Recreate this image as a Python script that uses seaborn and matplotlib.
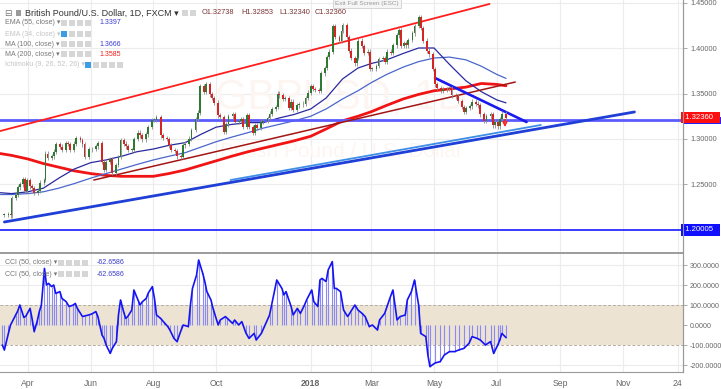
import numpy as np
import pandas as pd
import matplotlib
matplotlib.use("Agg")
import matplotlib.pyplot as plt
import matplotlib.dates as mdates
import matplotlib.transforms as mtransforms
from matplotlib.patches import Rectangle
import seaborn as sns

sns.set_style("white")
plt.rcParams["font.family"] = ["Liberation Sans", "DejaVu Sans"]

W, H = 721, 389
FIRST_DAY = "2017-03-09"
LAST_DAY = "2018-07-10"

# GBP/USD closes, roughly every second session, one list per month
c_mar17 = [1.2165, 1.2175, 1.2160, 1.2350, 1.2385, 1.2470, 1.2500, 1.2560, 1.2430, 1.2550]
c_apr17 = [1.2480, 1.2460, 1.2405, 1.2430, 1.2520, 1.2550, 1.2840, 1.2790, 1.2810, 1.2860, 1.2940]
c_may17 = [1.2915, 1.2880, 1.2955, 1.2945, 1.2880, 1.2950, 1.3010, 1.2990, 1.2940, 1.2800, 1.2885]
c_jun17 = [1.2890, 1.2920, 1.2955, 1.2745, 1.2660, 1.2750, 1.2780, 1.2630, 1.2715, 1.2800, 1.2990]
c_jul17 = [1.2950, 1.2920, 1.2880, 1.2880, 1.3000, 1.3070, 1.3040, 1.2995, 1.3050, 1.3130, 1.3210]
c_aug17 = [1.3210, 1.3240, 1.3040, 1.3010, 1.3000, 1.2930, 1.2880, 1.2870, 1.2810, 1.2800, 1.2930]
c_sep17 = [1.2950, 1.3005, 1.3100, 1.3220, 1.3290, 1.3580, 1.3520, 1.3600, 1.3490, 1.3450, 1.3400]
c_oct17 = [1.3260, 1.3240, 1.3080, 1.3160, 1.3250, 1.3270, 1.3190, 1.3200, 1.3220, 1.3130, 1.3260]
c_nov17 = [1.3130, 1.3070, 1.3150, 1.3120, 1.3190, 1.3200, 1.3230, 1.3280, 1.3330, 1.3350, 1.3500]
c_dec17 = [1.3480, 1.3440, 1.3450, 1.3340, 1.3410, 1.3320, 1.3370, 1.3380, 1.3390, 1.3450, 1.3510]
c_jan18 = [1.3580, 1.3550, 1.3540, 1.3530, 1.3720, 1.3780, 1.3900, 1.3960, 1.4240, 1.4120, 1.4080, 1.4190]
c_feb18 = [1.4250, 1.4120, 1.3970, 1.3890, 1.3830, 1.3890, 1.4080, 1.4020, 1.3950, 1.3960, 1.3770]
c_mar18 = [1.3770, 1.3800, 1.3880, 1.3890, 1.3850, 1.3960, 1.3950, 1.4030, 1.4140, 1.4200, 1.4020]
c_apr18 = [1.4050, 1.4030, 1.4090, 1.4160, 1.4240, 1.4340, 1.4220, 1.4080, 1.3970, 1.3930, 1.3770]
c_may18 = [1.3600, 1.3560, 1.3530, 1.3545, 1.3550, 1.3560, 1.3480, 1.3470, 1.3420, 1.3350, 1.3300]
c_jun18 = [1.3340, 1.3360, 1.3410, 1.3390, 1.3370, 1.3270, 1.3200, 1.3250, 1.3270, 1.3150, 1.3190]
c_jul18 = [1.3140, 1.3220, 1.3280, 1.3236]

k_mar17 = [-100, -125, -40, 0, 50, 70, 100, 37, 45]
k_apr17 = [83, 30, -33, 20, 67, 100, 283, 200, 208, 192, 200, 158]
k_may17 = [167, 133, 117, 92, 100, 108, 83, 42, 45, 50]
k_jun17 = [55, 67, 42, -50, -67, -100, -142, -117, -83, 50, 125]
k_jul17 = [67, 33, 42, 75, 175, 125, 100, 115, 133, 160, 192]
k_aug17 = [133, 50, 33, 15, -8, -25, -67, -83, -25, 0]
k_sep17 = [-8, 100, 183, 250, 325, 258, 217, 167, 125, 83]
k_oct17 = [0, 25, 42, 33, 8, 25, 0, 17, -40]
k_nov17 = [-67, -42, -75, -42, -8, 50, 100, 225]
k_dec17 = [183, 150, 167, 92, 50, 83, 58, 100, 125]
k_jan18 = [175, 117, 92, 225, 233, 217, 275, 317, 183, 183, 167]
k_feb18 = [75, 42, 67, 100, 75, 58, 42, -8]
k_mar18 = [0, -25, 25, 58, 133, 175, 25, 42]
k_apr18 = [50, 125, 167, 225, 100, -42, -58, -150, -208]
k_may18 = [-190, -183, -150, -133, -133, -125, -117]
k_jun18 = [-92, -58, -67, -75, -100, -83, -142]
k_jul18 = [-100, -75, -42, -62.6586]

months = ["2017-03", "2017-04", "2017-05", "2017-06", "2017-07", "2017-08", "2017-09",
          "2017-10", "2017-11", "2017-12", "2018-01", "2018-02", "2018-03", "2018-04",
          "2018-05", "2018-06", "2018-07"]
closes = [c_mar17, c_apr17, c_may17, c_jun17, c_jul17, c_aug17, c_sep17, c_oct17, c_nov17,
          c_dec17, c_jan18, c_feb18, c_mar18, c_apr18, c_may18, c_jun18, c_jul18]
ccis = [k_mar17, k_apr17, k_may17, k_jun17, k_jul17, k_aug17, k_sep17, k_oct17, k_nov17,
        k_dec17, k_jan18, k_feb18, k_mar18, k_apr18, k_may18, k_jun18, k_jul18]

# moving averages, read twice a month
ma_dates = ["2017-03-05", "2017-03-16", "2017-04-01", "2017-04-16", "2017-05-01", "2017-05-16",
            "2017-06-01", "2017-06-16", "2017-07-01", "2017-07-16", "2017-08-01", "2017-08-16",
            "2017-09-01", "2017-09-16", "2017-10-01", "2017-10-16", "2017-11-01", "2017-11-16",
            "2017-12-01", "2017-12-16", "2018-01-01", "2018-01-16", "2018-02-01", "2018-02-16",
            "2018-03-01", "2018-03-16", "2018-04-01", "2018-04-16", "2018-05-01", "2018-05-16",
            "2018-06-01", "2018-06-16", "2018-07-01", "2018-07-10"]
ema55 = [1.241, 1.240, 1.242, 1.246, 1.257, 1.267, 1.274, 1.277, 1.281, 1.286, 1.289, 1.293,
         1.296, 1.305, 1.313, 1.316, 1.318, 1.318, 1.323, 1.327, 1.333, 1.345, 1.366, 1.378,
         1.383, 1.387, 1.394, 1.400, 1.400, 1.382, 1.364, 1.352, 1.343, 1.3397]
ma100 = [1.239, 1.239, 1.240, 1.242, 1.246, 1.251, 1.257, 1.262, 1.267, 1.272, 1.277, 1.281,
         1.285, 1.291, 1.297, 1.302, 1.307, 1.312, 1.316, 1.320, 1.325, 1.333, 1.344, 1.353,
         1.362, 1.371, 1.379, 1.385, 1.389, 1.390, 1.387, 1.380, 1.371, 1.3666]
ma200 = [1.284, 1.282, 1.278, 1.273, 1.269, 1.265, 1.262, 1.260, 1.259, 1.259, 1.259, 1.262,
         1.266, 1.271, 1.276, 1.281, 1.286, 1.290, 1.294, 1.298, 1.303, 1.311, 1.320, 1.325,
         1.330, 1.337, 1.344, 1.349, 1.353, 1.355, 1.357, 1.361, 1.360, 1.3585]

# hand-drawn lines: (date, price) end points
channel_top = [("2017-03-05", 1.3088), ("2018-06-24", 1.4484)]
channel_mid = [("2017-06-04", 1.2549), ("2018-07-19", 1.3626)]
support_main = [("2017-03-09", 1.2088), ("2018-11-12", 1.3297)]
support_inner = [("2017-10-15", 1.2549), ("2018-08-13", 1.3154)]
resistance = [("2018-05-02", 1.3670), ("2018-07-30", 1.3187)]
h_level = 1.3210
h_low = 1.20005
last_price = 1.3236
arrow = [("2018-07-09", 1.3245), ("2018-07-09", 1.3100)]

tick_dates = ["2017-04-01", "2017-06-01", "2017-08-01", "2017-10-01", "2018-01-01", "2018-03-01",
              "2018-05-01", "2018-07-01", "2018-09-01", "2018-11-01", "2018-12-24"]
tick_labels = ["Apr", "Jun", "Aug", "Oct", "2018", "Mar", "May", "Jul", "Sep", "Nov", "24"]


def dn(d):
    return mdates.date2num(pd.Timestamp(d))


def month_dates(month, n, first, last):
    ms = pd.Timestamp(month + "-01")
    start = max(ms, pd.Timestamp(first))
    end = min(ms + pd.offsets.MonthEnd(0), pd.Timestamp(last))
    days = pd.bdate_range(start, end)
    idx = ((np.arange(n) + 0.5) * len(days) / n).astype(int)
    return mdates.date2num(days[idx])


def fpos(x, y):
    return x / W, 1 - y / H


px_x = np.concatenate([month_dates(m, len(v), FIRST_DAY, LAST_DAY) for m, v in zip(months, closes)])
close = np.concatenate(closes)
open_ = np.r_[close[0], close[:-1]]
cci_x = np.concatenate([month_dates(m, len(v), "2017-03-06", LAST_DAY) for m, v in zip(months, ccis)])
cci = np.concatenate(ccis)

fig = plt.figure(figsize=(W / 100, H / 100), dpi=100)
ax = fig.add_axes([0, 1 - 252 / H, 683 / W, 252 / H])
ax2 = fig.add_axes([0, 1 - 372 / H, 683 / W, 118 / H])

xlim = (dn("2017-03-04 18:00"), dn("2018-12-29 05:00"))
for a in (ax, ax2):
    a.set_xlim(*xlim)
    for s in a.spines.values():
        s.set_visible(False)
    a.spines["right"].set_visible(True)
    a.spines["right"].set_color("#9a9a9a")
    for t in tick_dates:
        a.axvline(dn(t), color="#ececec", lw=0.8, zorder=0)

ax.set_ylim(1.17582, 1.45275)
ax2.set_ylim(-235, 355)

# watermark
ax.text(0.5, 0.615, "GBPUSD, 1D", transform=ax.transAxes, ha="center", va="center",
        fontsize=30, color="#fdf5f2", zorder=0.2)
ax.text(0.5, 0.397, "British Pound / U.S. Dollar", transform=ax.transAxes, ha="center",
        va="center", fontsize=15, color="#fdf5f2", zorder=0.2)

# price pane
price_ticks = [1.25, 1.30, 1.35, 1.40, 1.45]
for p in price_ticks:
    ax.axhline(p, color="#ececec", lw=0.8, zorder=0)
ax.yaxis.tick_right()
ax.set_yticks(price_ticks)
ax.set_yticklabels([f"{p:.5f}" for p in price_ticks])
ax.tick_params(axis="y", labelsize=5.3, colors="#666666", length=3, width=0.6, pad=2)
ax.tick_params(axis="y", color="#9a9a9a")
ax.set_xticks([])

for (d0, p0), (d1, p1), col, lw in [
        (channel_top[0], channel_top[1], "#ff1e1e", 1.3),
        (channel_mid[0], channel_mid[1], "#a31515", 1.1),
        (support_inner[0], support_inner[1], "#3d8ee8", 1.3),
        (support_main[0], support_main[1], "#1f3fd6", 2.0),
        (resistance[0], resistance[1], "#1a1aee", 1.9)]:
    sns.lineplot(x=[dn(d0), dn(d1)], y=[p0, p1], ax=ax, color=col, lw=lw, zorder=6)

ax.axhline(h_level, color="#5b5bff", lw=2.0, zorder=5)
ax.axhline(h_low, color="#2b2bff", lw=1.3, zorder=5)

ma_x = [dn(d) for d in ma_dates]
sns.lineplot(x=ma_x, y=ma200, ax=ax, color="#f01414", lw=2.0, zorder=4)
sns.lineplot(x=ma_x, y=ma100, ax=ax, color="#4a66cc", lw=0.9, zorder=4)
sns.lineplot(x=ma_x, y=ema55, ax=ax, color="#2a2aa0", lw=0.9, zorder=4)

# candles
WICK = 0.0025
up = close >= open_
ax.vlines(px_x, np.minimum(open_, close) - WICK, np.maximum(open_, close) + WICK,
          color="#8c8c8c", lw=0.6, zorder=7)
body = np.where(np.abs(close - open_) < 0.0008, 0.0008 * np.where(up, 1, -1), close - open_)
ax.bar(px_x, body, bottom=open_, width=1.8, color=np.where(up, "#2f7a33", "#d42424"),
       lw=0, zorder=8)

ax.annotate("", xy=(dn(arrow[1][0]), arrow[1][1]), xytext=(dn(arrow[0][0]), arrow[0][1]),
            arrowprops=dict(arrowstyle="->", color="#ff2020", lw=1.1, mutation_scale=7), zorder=9)

# price labels on the axis
blend = mtransforms.blended_transform_factory(ax.transAxes, ax.transData)
ax.add_patch(Rectangle((1.0, h_level - 0.0048), 38 / 683, 0.0085, transform=blend,
                       color="#2323ff", lw=0, clip_on=False, zorder=10))
lab = dict(xycoords=("axes fraction", "data"), ha="left", va="center", fontsize=5.6,
           color="white", annotation_clip=False)
ax.annotate(" 1.32360  ", xy=(1.0, last_price), zorder=11,
            bbox=dict(boxstyle="square,pad=0.3", fc="#ff1010", ec="none"), **lab)
ax.annotate(" 1.20005  ", xy=(1.0, h_low), zorder=11,
            bbox=dict(boxstyle="square,pad=0.3", fc="#1010ff", ec="none"), **lab)

# CCI pane
cci_ticks = [300, 200, 100, 0, -100, -200]
for v in [300, 200, -200]:
    ax2.axhline(v, color="#ececec", lw=0.8, zorder=0)
ax2.axhspan(-100, 100, color="#ece3d3", zorder=1, lw=0)
for v in (100, -100):
    ax2.axhline(v, color="#b5ada3", lw=0.7, ls=(0, (3, 2)), zorder=2)
ax2.vlines(cci_x, 0, cci, color="#8a8af2", lw=0.8, zorder=3)
sns.lineplot(x=cci_x, y=cci, ax=ax2, color="#1414f5", lw=1.2, zorder=4)
ax2.yaxis.tick_right()
ax2.set_yticks(cci_ticks)
ax2.set_yticklabels([f"{v:.4f}" for v in cci_ticks])
ax2.tick_params(axis="y", labelsize=5.1, colors="#666666", length=3, width=0.6, pad=2)
ax2.tick_params(axis="y", color="#9a9a9a")
ax2.spines["bottom"].set_visible(True)
ax2.spines["bottom"].set_color("#9a9a9a")
ax2.set_xticks([dn(t) for t in tick_dates])
ax2.set_xticklabels(tick_labels)
ax2.tick_params(axis="x", labelsize=6.2, colors="#666666", length=3, width=0.6, pad=2)
ax2.get_xticklabels()[4].set_fontweight("bold")
ax2.set_ylabel("")
ax.set_ylabel("")

# pane separator
fig.add_artist(plt.Line2D([0, 683 / W], [1 - 253 / H] * 2, color="#8a8a8a", lw=1.2))
fig.add_artist(plt.Line2D([683 / W] * 2, [1 - 372 / H, 1], color="#9a9a9a", lw=0.8))


def boxes(x0, y, n, first=None):
    for i in range(n):
        col = first if (i == 0 and first) else "#d6d6d6"
        fx, fy = fpos(x0 + 8 * i, y + 3)
        fig.add_artist(Rectangle((fx, fy), 6 / W, 6 / H, transform=fig.transFigure,
                                 color=col, lw=0))


# header
fig.text(*fpos(4, 13), "⊟", fontsize=6.5, color="#777777", va="center")
fig.add_artist(Rectangle(fpos(16, 16), 5 / W, 6 / H, transform=fig.transFigure,
                         color="#9a9a9a", lw=0))
fig.text(*fpos(25, 13), "British Pound/U.S. Dollar, 1D, FXCM ▾", fontsize=6.5,
         color="#333333", va="center")
boxes(182, 13, 2)
for x, s in [(202, "O1.32738"), (241, "H1.32853"), (279, "L1.32340"), (315, "C1.32360")]:
    fig.text(*fpos(x, 13), s, fontsize=5.3, color="#7a3434", va="center")

rows = [("EMA (55, close) ▾", "#777777", 23, 4, None, "1.3397", "#3a3ad0"),
        ("EMA (34, close) ▾", "#c4c4c4", 34, 4, "#3a9de6", None, None),
        ("MA (100, close) ▾", "#777777", 44, 4, None, "1.3666", "#3a3ad0"),
        ("MA (200, close) ▾", "#777777", 54, 4, None, "1.3585", "#ee2020"),
        ("Ichimoku (9, 26, 52, 26) ▾", "#c4c4c4", 65, 5, "#3a9de6", None, None)]
for name, col, y, n, first, val, vcol in rows:
    fig.text(*fpos(5, y), name, fontsize=5, color=col, va="center")
    x0 = 85 if name.startswith("Ichimoku") else 61
    boxes(x0, y, n, first)
    if val:
        fig.text(*fpos(99, y), val, fontsize=5, color=vcol, va="center")

for y in (263, 274):
    fig.text(*fpos(5, y), "CCI (50, close) ▾", fontsize=5, color="#777777", va="center")
    boxes(58, y, 4)
    fig.text(*fpos(97, y), "-62.6586", fontsize=5, color="#3a3ad0", va="center")

fig.text(*fpos(335, 3), "Exit Full Screen (ESC)", fontsize=4.6, color="#9a9a9a", va="center",
         bbox=dict(boxstyle="square,pad=0.35", fc="#f5f5f5", ec="#d0d0d0", lw=0.6))

fig.savefig("out.png", dpi=100)
plt.close(fig)
